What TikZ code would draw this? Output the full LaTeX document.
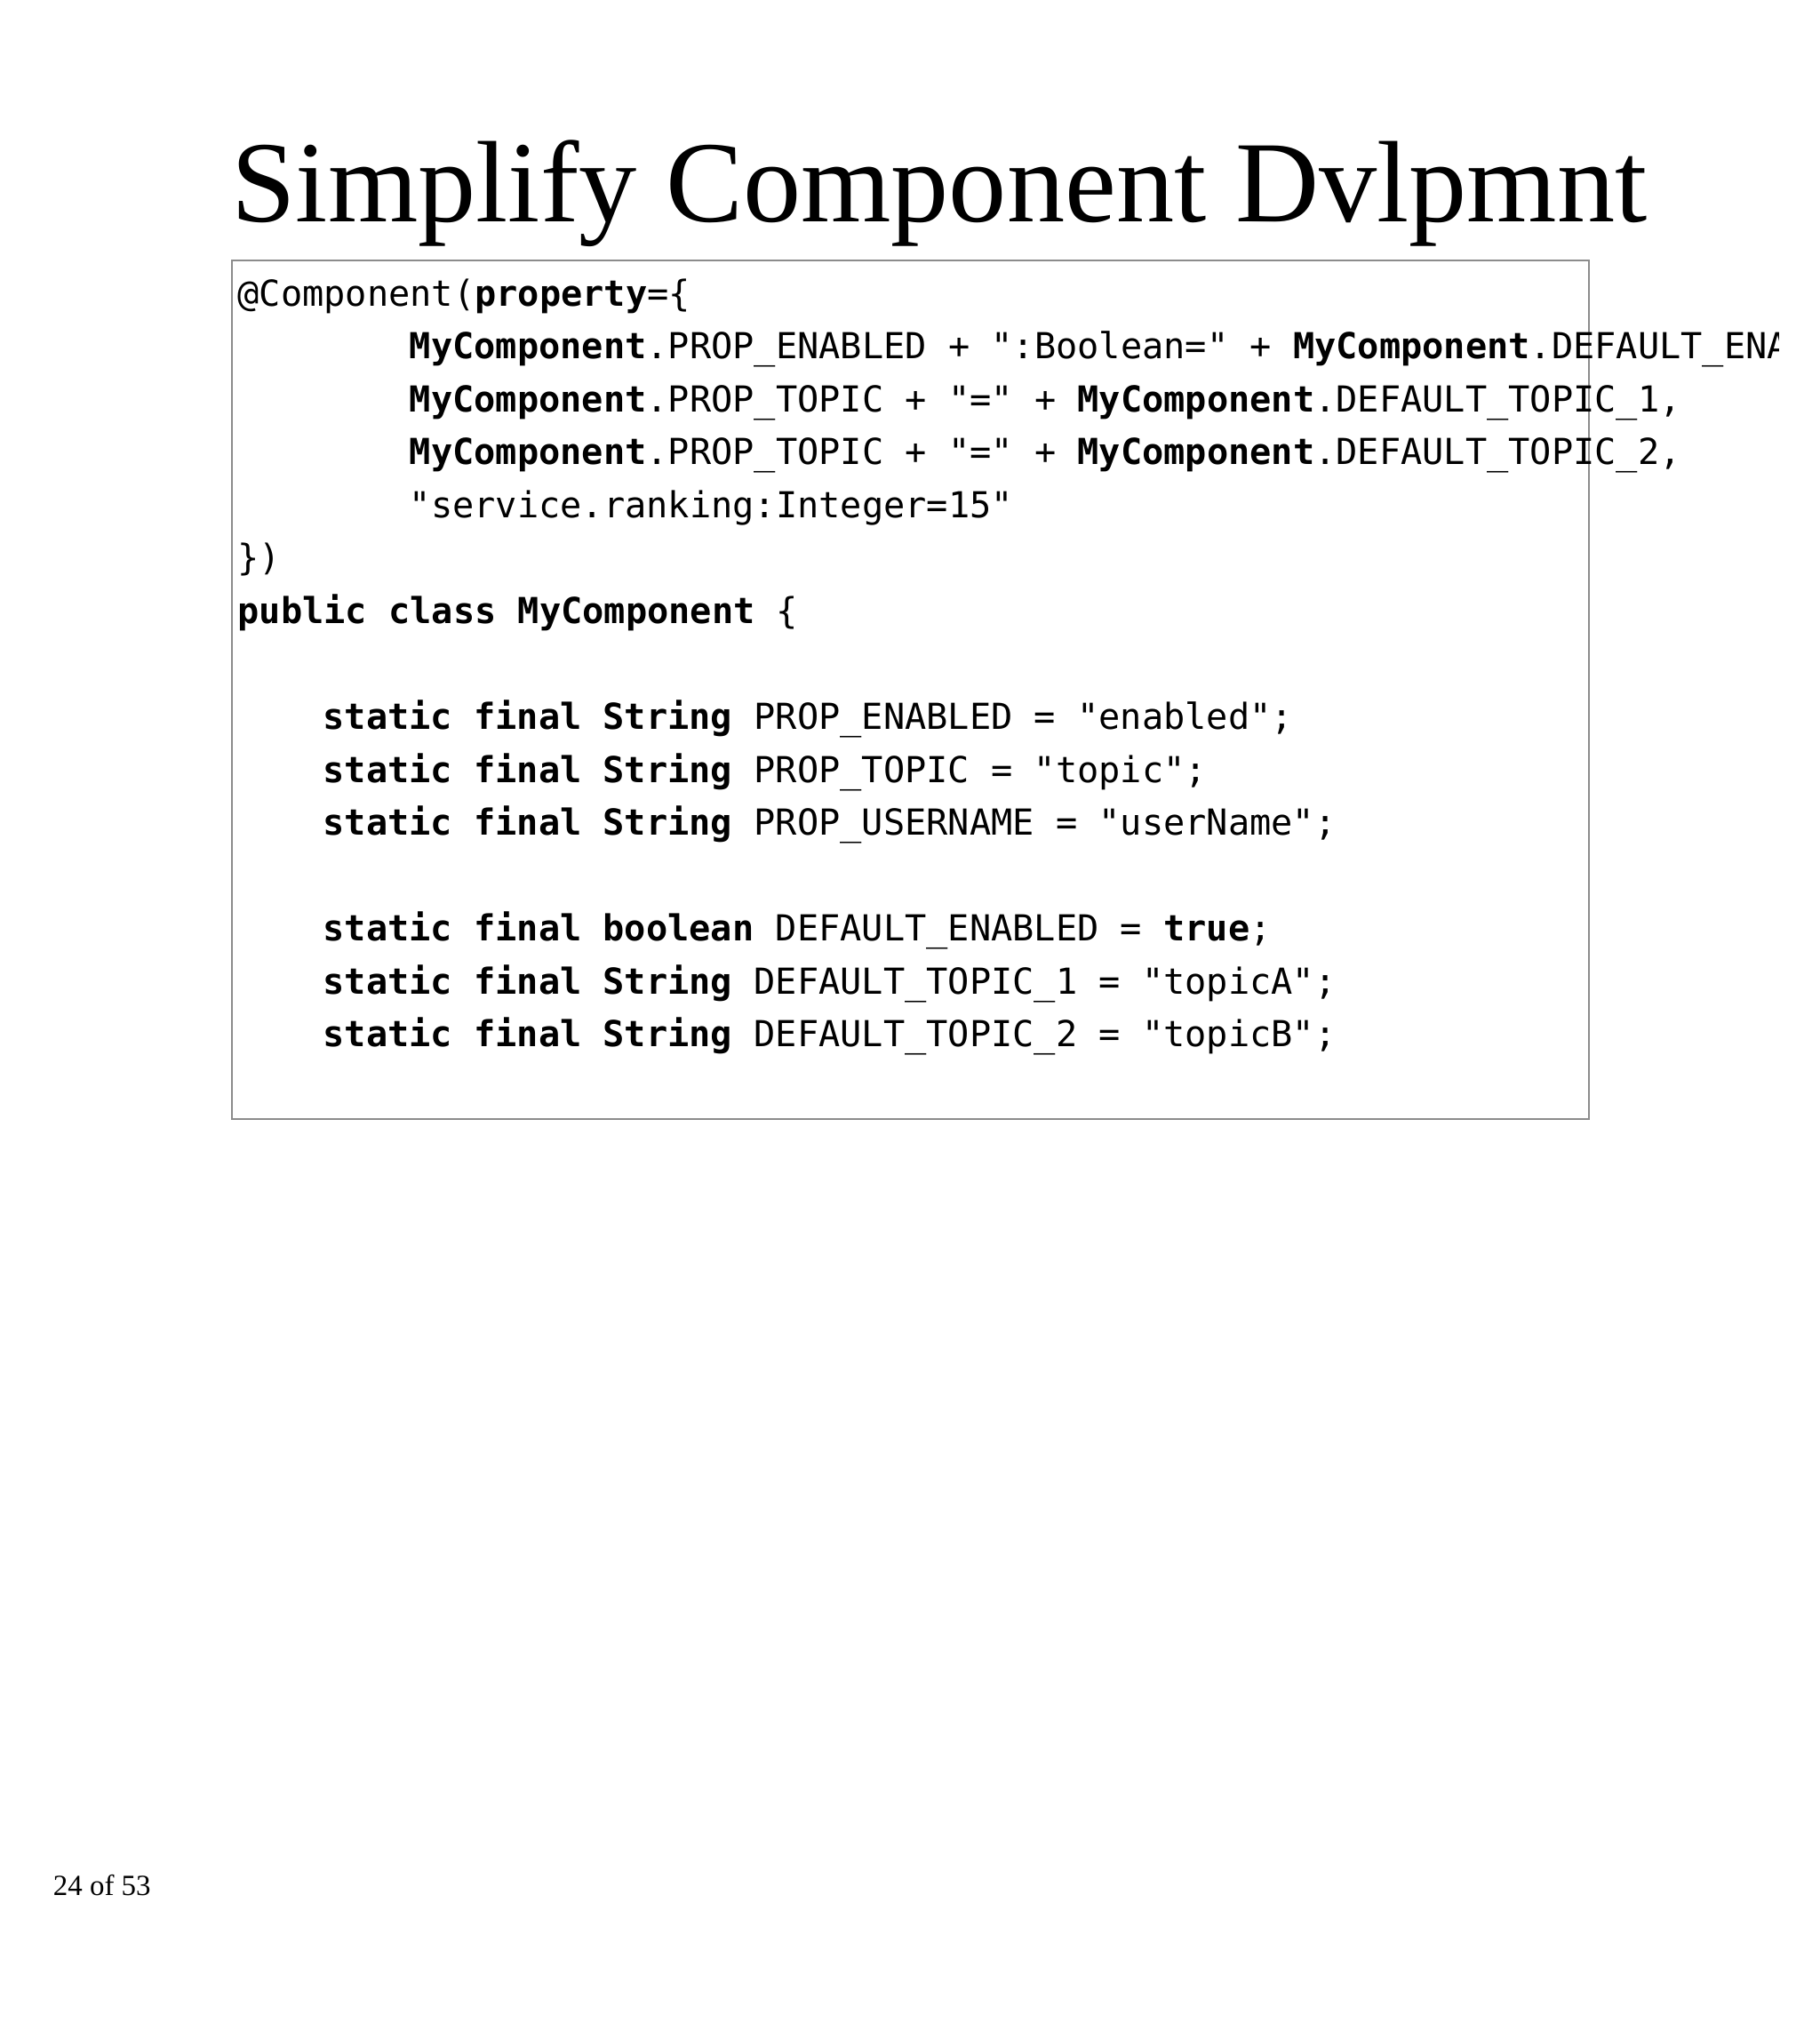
\documentclass[tikz,border=0pt]{standalone}
\usepackage{fontspec}
\setmainfont{Liberation Serif}
\newfontfamily\codefont{DejaVu Sans Mono}
\begin{document}
\begin{tikzpicture}[x=0.75pt,y=-0.75pt,
  code/.style={anchor=base west,inner sep=0pt,font=\codefont\fontsize{20.8}{24}\selectfont},
  every node/.style={text=black}]
\useasboundingbox (0,0) rectangle (1410,1567);
\node[anchor=base west,inner sep=0pt,font=\fontsize{67.3}{72}\selectfont] (title) at (179,172) {Simplify Component Dvlpmnt};
\draw[gray!90,line width=1pt] (180,202) rectangle (1231,867);
\begin{scope}
\clip (150,200) rectangle (1378,870);
\node[code] (l1) at (184,237) {@Component(\textbf{property}=\{};
\node[code] (l2) at (317,278) {\textbf{MyComponent}.PROP\_ENABLED + ":Boolean=" + \textbf{MyComponent}.DEFAULT\_ENABLED,};
\node[code] (l3) at (317,319) {\textbf{MyComponent}.PROP\_TOPIC + "=" + \textbf{MyComponent}.DEFAULT\_TOPIC\_1,};
\node[code] (l4) at (317,360) {\textbf{MyComponent}.PROP\_TOPIC + "=" + \textbf{MyComponent}.DEFAULT\_TOPIC\_2,};
\node[code] (l5) at (317,401) {"service.ranking:Integer=15"};
\node[code] (l6) at (184,442) {\})};
\node[code] (l7) at (184,483) {\textbf{public class MyComponent} \{};
\node[code] (l8) at (250,565) {\textbf{static final String} PROP\_ENABLED = "enabled";};
\node[code] (l9) at (250,606) {\textbf{static final String} PROP\_TOPIC = "topic";};
\node[code] (l10) at (250,647) {\textbf{static final String} PROP\_USERNAME = "userName";};
\node[code] (l11) at (250,729) {\textbf{static final boolean} DEFAULT\_ENABLED = \textbf{true};};
\node[code] (l12) at (250,770) {\textbf{static final String} DEFAULT\_TOPIC\_1 = "topicA";};
\node[code] (l13) at (250,811) {\textbf{static final String} DEFAULT\_TOPIC\_2 = "topicB";};
\end{scope}
\node[anchor=base west,inner sep=0pt,font=\fontsize{17}{19}\selectfont] (foot) at (41,1468) {24 of 53};
\end{tikzpicture}
\end{document}
